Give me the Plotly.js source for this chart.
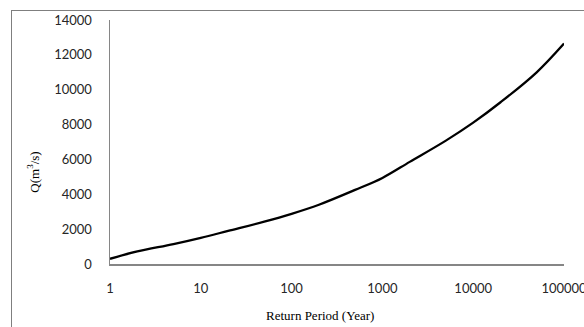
<!DOCTYPE html>
<html>
<head>
<meta charset="utf-8">
<script src="https://cdn.plot.ly/plotly-3.0.1.min.js"></script>
<style>
  html, body { margin: 0; padding: 0; background: #ffffff; }
  #frame { position: absolute; left: 11px; top: 10px; width: 620px; height: 400px;
           border: 1.5px solid #7f7f7f; box-sizing: border-box; }
  #chart { position: absolute; left: 0; top: 0; width: 584px; height: 327px; }
</style>
</head>
<body>
<div id="frame"></div>
<div id="chart"></div>
<script>
// Return period (years)
const returnPeriod = [1, 2, 5, 10, 20, 50, 100, 200, 500, 1000, 2000, 5000, 10000, 20000, 50000, 100000];
// Discharge Q (m3/s)
const discharge = [300, 720, 1140, 1500, 1900, 2430, 2880, 3400, 4250, 4940, 5860, 7080, 8110, 9280, 11000, 12650];
// Axis ticks
const xTickVals = [1, 10, 100, 1000, 10000, 100000];
const xTickText = ['1', '10', '100', '1000', '10000', '100000'];
const yTickVals = [0, 2000, 4000, 6000, 8000, 10000, 12000, 14000];
const yTickText = ['0', '2000', '4000', '6000', '8000', '10000', '12000', '14000'];

const tickFont = { family: 'Lato, "Open Sans", sans-serif', size: 13, color: '#262626' };
const titleFont = { family: '"Liberation Serif", "DejaVu Serif", serif', size: 13, color: '#000000' };

const trace = {
  x: returnPeriod,
  y: discharge,
  type: 'scatter',
  mode: 'lines',
  line: { color: '#000000', width: 2.3, shape: 'spline', smoothing: 1.0 },
  hoverinfo: 'skip'
};

const layout = {
  width: 584,
  height: 327,
  margin: { l: 110, r: 20, t: 20, b: 62.5, pad: 0 },
  paper_bgcolor: 'rgba(0,0,0,0)',
  plot_bgcolor: 'rgba(0,0,0,0)',
  showlegend: false,
  xaxis: {
    type: 'log',
    range: [0, 5],
    tickvals: xTickVals,
    ticktext: xTickText,
    showgrid: false,
    zeroline: false,
    showline: true,
    linecolor: '#868686',
    linewidth: 1.5,
    ticks: '',
    ticklabelstandoff: 12,
    ticklabeloverflow: 'allow',
    tickfont: tickFont,
    automargin: false
  },
  yaxis: {
    range: [0, 14000],
    tickvals: yTickVals,
    ticktext: yTickText,
    showgrid: false,
    zeroline: false,
    showline: true,
    linecolor: '#868686',
    linewidth: 1.5,
    ticks: '',
    ticklabelstandoff: 14,
    ticklabeloverflow: 'allow',
    tickfont: tickFont,
    automargin: false
  },
  annotations: [
    {
      text: 'Return Period (Year)',
      xref: 'paper', yref: 'paper',
      x: (320 - 110) / 454, y: -(316 - 264.5) / 244.5,
      xanchor: 'center', yanchor: 'middle',
      showarrow: false,
      font: titleFont
    },
    {
      text: 'Q(m<sup>3</sup>/s)',
      xref: 'paper', yref: 'paper',
      x: -(110 - 33) / 454, y: (264.5 - 173) / 244.5,
      xanchor: 'center', yanchor: 'middle',
      textangle: -90,
      showarrow: false,
      font: titleFont
    }
  ]
};

Plotly.newPlot('chart', [trace], layout, { staticPlot: true, displayModeBar: false });
</script>
</body>
</html>
